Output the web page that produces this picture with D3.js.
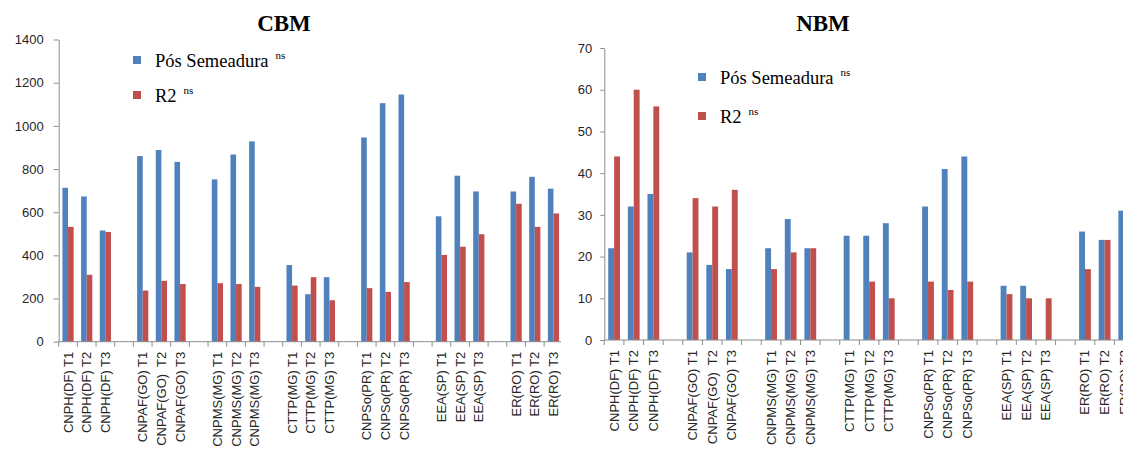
<!DOCTYPE html>
<html>
<head>
<meta charset="utf-8">
<script src="https://cdn.jsdelivr.net/npm/d3@7"></script>
<style>
  html, body { margin: 0; padding: 0; background: #fff; }
  svg { display: block; }
</style>
</head>
<body>
<svg id="chart" width="1123" height="450"></svg>
<script>
// Sites and treatments, three per site
const categories = [
  "CNPH(DF) T1", "CNPH(DF) T2", "CNPH(DF) T3",
  "CNPAF(GO) T1", "CNPAF(GO)  T2", "CNPAF(GO) T3",
  "CNPMS(MG) T1", "CNPMS(MG) T2", "CNPMS(MG) T3",
  "CTTP(MG) T1", "CTTP(MG) T2", "CTTP(MG) T3",
  "CNPSo(PR) T1", "CNPSo(PR) T2", "CNPSo(PR) T3",
  "EEA(SP) T1", "EEA(SP) T2", "EEA(SP) T3",
  "ER(RO) T1", "ER(RO) T2", "ER(RO) T3"
];

// CBM
const cbmPos = [713, 673, 515, 860, 888, 833, 752, 867, 928, 355, 220, 299, 946, 1105, 1145, 581, 769, 696, 696, 764, 709];
const cbmR2  = [532, 310, 508, 237, 282, 267, 271, 267, 254, 260, 299, 192, 248, 231, 276, 402, 440, 498, 639, 532, 594];
const cbmTicks = [0, 200, 400, 600, 800, 1000, 1200, 1400];

// NBM
const nbmPos = [22, 32, 35, 21, 18, 17, 22, 29, 22, 25, 25, 28, 32, 41, 44, 13, 13, 0, 26, 24, 31];
const nbmR2  = [44, 60, 56, 34, 32, 36, 17, 21, 22, 0, 14, 10, 14, 12, 14, 11, 10, 10, 17, 24, 21];
const nbmTicks = [0, 10, 20, 30, 40, 50, 60, 70];

const seriesNames = ["Pós Semeadura", "R2"];
const seriesColors = ["#4F81BD", "#C0504D"];

const svg = d3.select("#chart");
const sans = "'Liberation Sans', Arial, sans-serif";
const serif = "'Liberation Serif', 'Times New Roman', serif";

// one empty slot separates each site's group of three
const slotOf = i => i + Math.floor(i / 3);
const nSlots = categories.length + Math.floor((categories.length - 1) / 3);

function panel(cfg) {
  const g = svg.append("g");
  const clipId = "clip-" + cfg.id;
  svg.append("defs").append("clipPath").attr("id", clipId)
    .append("rect").attr("x", 0).attr("y", 0).attr("width", cfg.clipRight).attr("height", 450);
  g.attr("clip-path", `url(#${clipId})`);

  const x = d3.scaleBand().domain(d3.range(nSlots))
    .range([cfg.x0, cfg.x0 + nSlots * cfg.step]).paddingInner(0).paddingOuter(0);
  const pairW = cfg.step * 0.6;
  const inner = d3.scaleBand().domain([0, 1])
    .range([(cfg.step - pairW) / 2, (cfg.step + pairW) / 2]);
  const y = d3.scaleLinear().domain([0, cfg.max]).range([cfg.y0, cfg.yTop]);

  // bars
  const rows = categories.map((c, i) => ({ i, vals: [cfg.pos[i], cfg.r2[i]] }));
  rows.forEach(r => {
    r.vals.forEach((v, s) => {
      if (!v) return;
      g.append("rect")
        .attr("x", x(slotOf(r.i)) + inner(s))
        .attr("width", inner.bandwidth())
        .attr("y", y(v))
        .attr("height", y(0) - y(v))
        .attr("fill", seriesColors[s]);
    });
  });

  // y axis
  const yAxis = d3.axisLeft(y).tickValues(cfg.ticks).tickFormat(d3.format("d"))
    .tickSize(cfg.tickLen).tickPadding(cfg.tickPad).tickSizeOuter(0);
  const ya = g.append("g").attr("transform", `translate(${cfg.x0},0)`).call(yAxis);
  ya.select(".domain").attr("stroke", "#8c8c8c");
  ya.selectAll(".tick line").attr("stroke", "#8c8c8c");
  ya.selectAll(".tick text").attr("font-family", sans).attr("font-size", 13)
    .attr("fill", "#262626");

  // x axis line and slot boundary ticks
  g.append("line").attr("x1", cfg.x0).attr("x2", cfg.x0 + nSlots * cfg.step)
    .attr("y1", cfg.y0).attr("y2", cfg.y0).attr("stroke", "#8c8c8c");
  d3.range(nSlots + 1).forEach(k => {
    const xx = k < nSlots ? x(k) : x.range()[1];
    g.append("line").attr("x1", xx).attr("x2", xx)
      .attr("y1", cfg.y0).attr("y2", cfg.y0 + 5).attr("stroke", "#8c8c8c");
  });

  // category labels, rotated
  categories.forEach((c, i) => {
    const cx = x(slotOf(i)) + x.bandwidth() / 2;
    g.append("text")
      .attr("transform", `translate(${cx + 4.5},${cfg.y0 + 10}) rotate(-90)`)
      .attr("text-anchor", "end")
      .attr("font-family", sans).attr("font-size", 13)
      .attr("fill", "#262626")
      .style("white-space", "pre")
      .text(c);
  });

  // title
  svg.append("text").attr("x", cfg.titleX).attr("y", 31)
    .attr("text-anchor", "middle").style("font-family", serif)
    .attr("font-weight", "bold").attr("font-size", 23).attr("fill", "#000")
    .text(cfg.title);

  // legend
  seriesNames.forEach((name, s) => {
    const ly = cfg.legY[s];
    g.append("rect").attr("x", cfg.legX).attr("y", ly - 11).attr("width", 8).attr("height", 8)
      .attr("fill", seriesColors[s]);
    const t = g.append("text").attr("x", cfg.legX + 22).attr("y", ly)
      .style("font-family", serif).attr("font-size", 18.5).attr("fill", "#000");
    t.append("tspan").style("font-family", serif).text(name);
    t.append("tspan").style("font-family", serif).attr("dx", 7).attr("dy", -8)
      .attr("font-size", 11).text("ns");
  });
}

panel({
  id: "cbm", title: "CBM", titleX: 284,
  pos: cbmPos, r2: cbmR2, ticks: cbmTicks, max: 1400,
  x0: 58.7, step: 18.67, y0: 341.7, yTop: 39.5,
  tickLen: 5, tickPad: 10, clipRight: 561,
  legX: 133, legY: [67, 102]
});

panel({
  id: "nbm", title: "NBM", titleX: 823,
  pos: nbmPos, r2: nbmR2, ticks: nbmTicks, max: 70,
  x0: 604.3, step: 19.62, y0: 340, yTop: 48,
  tickLen: 4, tickPad: 8, clipRight: 1123,
  legX: 698, legY: [84, 123]
});
</script>
</body>
</html>
